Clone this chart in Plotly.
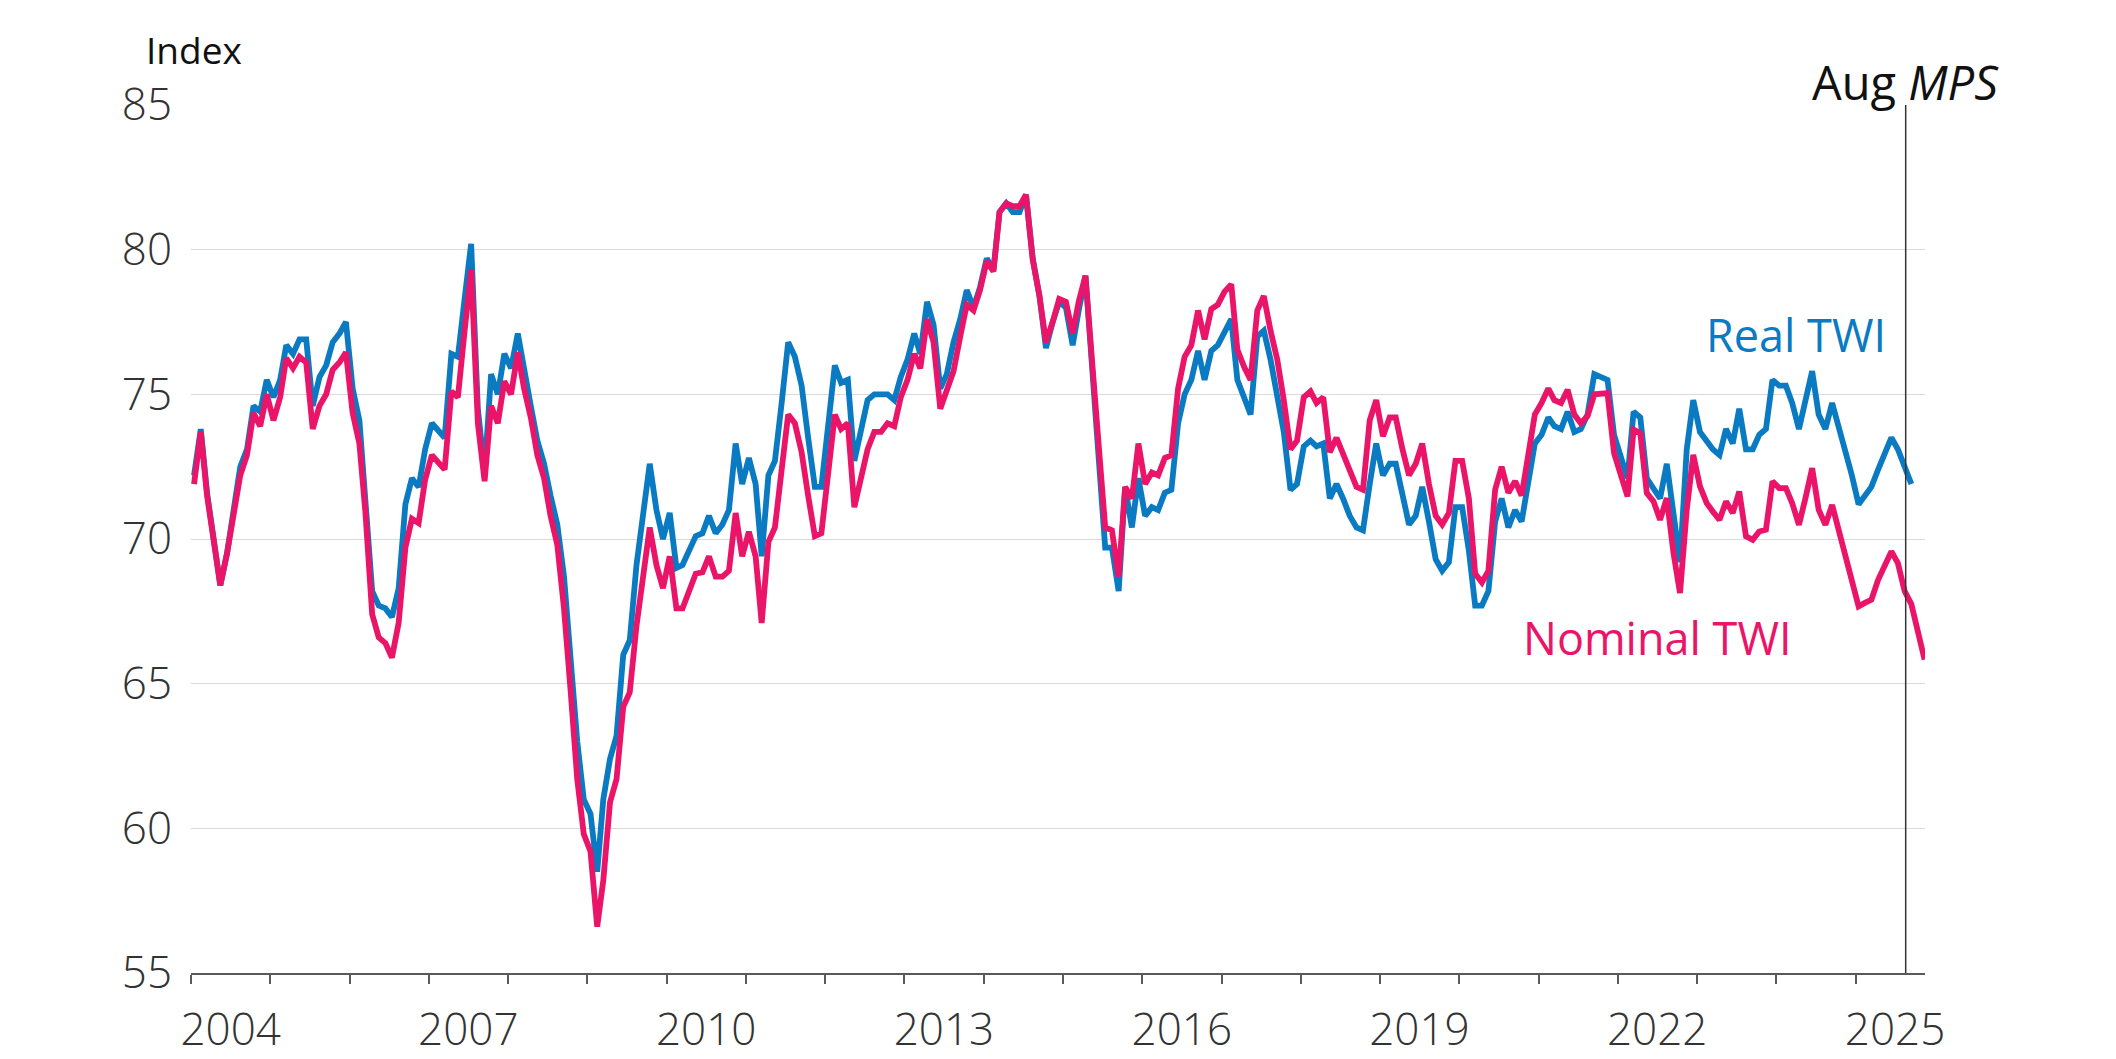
import plotly.graph_objects as go

# ---- data (monthly, Jan 2004 onward) ----
real_twi = [
    72.2, 73.8, 71.6, 69.9, 68.4, 69.5, 70.9, 72.5, 73.1, 74.6, 74.4, 75.5,   # 2004
    74.9, 75.5, 76.7, 76.4, 76.9, 76.9, 74.6, 75.6, 76.0, 76.8, 77.1, 77.5,   # 2005
    75.2, 74.1, 71.3, 68.2, 67.7, 67.6, 67.3, 68.3, 71.2, 72.1, 71.8, 73.1,   # 2006
    74.0, 73.7, 73.5, 76.4, 76.3, 78.3, 80.2, 74.5, 72.3, 75.7, 75.0, 76.4,   # 2007
    75.9, 77.1, 75.8, 74.6, 73.4, 72.6, 71.5, 70.5, 68.7, 65.8, 63.0, 61.0,   # 2008
    60.5, 58.5, 61.0, 62.4, 63.2, 66.0, 66.5, 69.1, 70.9, 72.6, 71.0, 70.0,   # 2009
    70.9, 69.0, 69.1, 69.6, 70.1, 70.2, 70.8, 70.2, 70.5, 71.0, 73.3, 71.9,   # 2010
    72.8, 71.9, 69.4, 72.2, 72.7, 74.7, 76.8, 76.3, 75.3, 73.5, 71.8, 71.8,   # 2011
    73.9, 76.0, 75.4, 75.5, 72.7, 73.7, 74.8, 75.0, 75.0, 75.0, 74.8, 75.6,   # 2012
    76.2, 77.1, 76.4, 78.2, 77.4, 75.2, 75.7, 76.8, 77.6, 78.6, 78.0, 78.7,   # 2013
    79.7, 79.3, 81.3, 81.6, 81.3, 81.3, 81.9, 79.7, 78.4, 76.6, 77.5, 78.2,   # 2014
    78.0, 76.7, 77.9, 79.1, 76.0, 72.8, 69.7, 69.7, 68.2, 71.8, 70.4, 72.1,   # 2015
    70.8, 71.1, 71.0, 71.6, 71.7, 74.0, 75.0, 75.5, 76.5, 75.5, 76.5, 76.7,   # 2016
    77.1, 77.6, 75.5, 74.9, 74.3, 77.0, 77.2, 76.2, 75.0, 73.7, 71.7, 71.9,   # 2017
    73.2, 73.4, 73.2, 73.3, 71.4, 71.9, 71.4, 70.8, 70.4, 70.3, 71.9, 73.3,   # 2018
    72.2, 72.6, 72.6, 71.5, 70.5, 70.8, 71.8, 70.6, 69.3, 68.9, 69.2, 71.1,   # 2019
    71.1, 69.6, 67.7, 67.7, 68.2, 70.6, 71.4, 70.4, 71.0, 70.6, 71.9, 73.3,   # 2020
    73.6, 74.2, 73.9, 73.8, 74.4, 73.7, 73.8, 74.3, 75.7, 75.6, 75.5, 73.6,   # 2021
    72.9, 72.1, 74.4, 74.2, 72.1, 71.7, 71.4, 72.6, 70.8, 69.2, 73.1, 74.8,   # 2022
    73.7, 73.4, 73.1, 72.9, 73.8, 73.3, 74.5, 73.1, 73.1, 73.6, 73.8, 75.5,   # 2023
    75.3, 75.3, 74.7, 73.8, 74.8, 75.8, 74.3, 73.8, 74.7, 73.9, 73.1, 72.2,   # 2024
    71.2, 71.5, 71.8, 72.4, 73.0, 73.5, 73.1, 72.5, 71.9,                     # 2025
]

nominal_twi = [
    71.9, 73.7, 71.5, 69.9, 68.4, 69.5, 70.8, 72.2, 72.9, 74.35, 73.9, 75.0,   # 2004
    74.1, 74.9, 76.25, 75.9, 76.3, 76.1, 73.8, 74.6, 75.0, 75.85, 76.1, 76.45, # 2005
    74.35, 73.3, 70.9, 67.4, 66.6, 66.4, 65.9, 67.1, 69.7, 70.7, 70.55, 72.05, # 2006
    72.9, 72.6, 72.4, 75.1, 74.9, 77.2, 79.3, 74.0, 72.0, 74.6, 74.0, 75.45,   # 2007
    75.0, 76.45, 75.2, 74.2, 72.9, 72.1, 70.8, 69.8, 67.6, 64.8, 61.7, 59.8,   # 2008
    59.2, 56.6, 58.2, 60.9, 61.7, 64.2, 64.7, 67.0, 68.7, 70.4, 69.1, 68.3,    # 2009
    69.4, 67.6, 67.6, 68.2, 68.8, 68.85, 69.4, 68.7, 68.7, 68.9, 70.9, 69.4,   # 2010
    70.25, 69.4, 67.1, 69.9, 70.4, 72.4, 74.3, 74.0, 73.0, 71.5, 70.1, 70.2,   # 2011
    72.3, 74.3, 73.8, 74.0, 71.1, 72.1, 73.1, 73.7, 73.7, 74.0, 73.9, 74.9,    # 2012
    75.5, 76.4, 75.9, 77.6, 76.8, 74.5, 75.2, 75.8, 77.0, 78.1, 77.9, 78.6,    # 2013
    79.6, 79.25, 81.3, 81.6, 81.5, 81.5, 81.9, 79.65, 78.4, 76.8, 77.5, 78.3,  # 2014
    78.2, 77.1, 78.2, 79.1, 76.2, 73.2, 70.4, 70.3, 68.7, 71.8, 71.4, 73.3,    # 2015
    71.9, 72.3, 72.2, 72.8, 72.9, 75.2, 76.3, 76.7, 77.9, 76.9, 77.95, 78.1,   # 2016
    78.55, 78.8, 76.55, 75.95, 75.5, 77.9, 78.4, 77.2, 76.2, 74.8, 73.1, 73.4, # 2017
    74.9, 75.1, 74.7, 74.9, 73.0, 73.5, 72.9, 72.3, 71.8, 71.7, 74.1, 74.8,    # 2018
    73.55, 74.2, 74.2, 73.1, 72.2, 72.6, 73.3, 71.9, 70.8, 70.5, 70.9, 72.7,   # 2019
    72.7, 71.4, 68.8, 68.5, 68.9, 71.7, 72.5, 71.6, 72.0, 71.5, 73.0, 74.3,    # 2020
    74.7, 75.2, 74.8, 74.7, 75.16, 74.3, 74.0, 74.25, 75.0, 75.04, 75.04, 72.97,  # 2021
    72.16, 71.47, 73.78, 73.66, 71.59, 71.3, 70.66, 71.41, 69.51, 68.13, 71.01, 72.91,  # 2022
    71.82, 71.24, 70.95, 70.66, 71.3, 70.9, 71.64, 70.09, 69.97, 70.26, 70.32, 71.99,  # 2023
    71.76, 71.76, 71.24, 70.49, 71.41, 72.45, 71.01, 70.49, 71.18, 70.32, 69.51, 68.48,  # 2024
    67.67, 67.8, 67.9, 68.59, 69.11, 69.57, 69.17, 68.2, 67.75, 66.8, 65.83,   # 2025
]

start_year = 2004
label_years = [2004, 2007, 2010, 2013, 2016, 2019, 2022, 2025]
y_ticks = [55, 60, 65, 70, 75, 80, 85]
mps_date = "2025-08-20"


def month_dates(n):
    return [f"{start_year + i // 12}-{i % 12 + 1:02d}-15" for i in range(n)]


BLUE = "#0A7AC2"
PINK = "#EA1568"
FONT = "Open Sans"

fig = go.Figure()
fig.add_trace(go.Scatter(x=month_dates(len(real_twi)), y=real_twi, mode="lines",
                         line=dict(color=BLUE, width=5.8), name="Real TWI",
                         showlegend=False))
fig.add_trace(go.Scatter(x=month_dates(len(nominal_twi)), y=nominal_twi, mode="lines",
                         line=dict(color=PINK, width=5.8), name="Nominal TWI",
                         showlegend=False))

fig.update_layout(
    width=2116, height=1059,
    margin=dict(l=191, r=191, t=105, b=86),
    paper_bgcolor="white", plot_bgcolor="white",
    font=dict(family=FONT, size=44, color="#333333", weight=300),
    showlegend=False,
)

fig.update_xaxes(
    type="date",
    range=["2004-01-01", "2025-11-17"],
    automargin=False,
    tickmode="array",
    tickvals=[f"{y}-07-02" for y in label_years],
    ticktext=[str(y) for y in label_years],
    ticks="",
    ticklabelstandoff=17,
    tickfont=dict(family=FONT, size=44, color="#333333", weight=300),
    showgrid=False,
    showline=True, linecolor="#5a5a5a", linewidth=1.5,
    minor=dict(ticks="outside", ticklen=9, tickwidth=1.5, tickcolor="#5a5a5a",
               dtick="M12", tick0="2004-01-01", showgrid=False),
    zeroline=False,
)

fig.update_yaxes(
    range=[55, 85],
    automargin=False,
    tickmode="array", tickvals=y_ticks,
    ticktext=[str(v) for v in y_ticks],
    ticks="",
    ticklabelstandoff=18,
    tickfont=dict(family=FONT, size=44, color="#333333", weight=300),
    showgrid=True, gridcolor="#DADADA", gridwidth=1.3,
    showline=False, zeroline=False,
)

# vertical MPS line
fig.add_shape(type="line", xref="x", yref="paper", x0=mps_date, x1=mps_date,
              y0=0, y1=1, line=dict(color="#333333", width=1.5))

fig.add_annotation(xref="x", yref="paper", x=mps_date, y=1.027,
                   text="Aug <i>MPS</i>", showarrow=False,
                   xanchor="center", yanchor="middle",
                   font=dict(family=FONT, size=47, color="#111111", weight=400))

fig.add_annotation(xref="paper", yref="paper", x=-0.027, y=1.064,
                   text="Index", showarrow=False,
                   xanchor="left", yanchor="middle",
                   font=dict(family=FONT, size=37, color="#111111", weight=400))

fig.add_annotation(xref="x", yref="y", x="2024-04-01", y=77.08,
                   text="Real TWI", showarrow=False,
                   xanchor="center", yanchor="middle",
                   font=dict(family=FONT, size=45, color=BLUE, weight=400))

fig.add_annotation(xref="x", yref="y", x="2022-07-02", y=66.59,
                   text="Nominal TWI", showarrow=False,
                   xanchor="center", yanchor="middle",
                   font=dict(family=FONT, size=45, color=PINK, weight=400))

fig.write_html("out.html")
